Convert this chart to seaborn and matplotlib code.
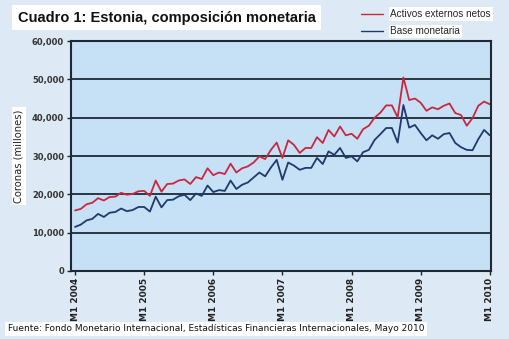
import numpy as np
import pandas as pd
import matplotlib
matplotlib.use("Agg")
import matplotlib.pyplot as plt
import seaborn as sns
from matplotlib.lines import Line2D

# ---- data (millones de coronas), monthly Jan 2004 .. Jan 2010 ----
activos = [15.8, 16.2, 17.4, 17.8, 19.0, 18.4, 19.3, 19.4, 20.4, 19.9, 20.1, 20.8,
           20.9, 19.6, 23.6, 20.7, 22.7, 22.8, 23.6, 23.9, 22.7, 24.5, 24.0, 26.8,
           25.0, 25.7, 25.3, 28.0, 25.7, 26.8, 27.3, 28.3, 29.9, 29.2, 31.6, 33.5,
           29.5, 34.1, 32.9, 30.8, 32.1, 32.1, 34.9, 33.4, 36.8, 35.1, 37.7, 35.4,
           35.8, 34.5, 37.0, 37.9, 40.0, 41.3, 43.2, 43.2, 40.1, 50.5, 44.6, 45.0,
           43.9, 41.8, 42.7, 42.2, 43.1, 43.7, 41.2, 40.7, 37.9, 39.9, 43.1, 44.2,
           43.5]
base = [11.5, 12.1, 13.2, 13.6, 14.9, 14.1, 15.2, 15.4, 16.3, 15.6, 15.9, 16.7,
        16.7, 15.5, 19.4, 16.6, 18.5, 18.6, 19.5, 19.9, 18.5, 20.2, 19.6, 22.3,
        20.6, 21.1, 20.9, 23.6, 21.4, 22.5, 23.1, 24.4, 25.7, 24.7, 27.0, 29.0,
        23.8, 28.3, 27.5, 26.4, 26.9, 26.9, 29.5, 27.9, 31.2, 30.3, 32.1, 29.5,
        29.9, 28.6, 31.0, 31.6, 34.2, 35.7, 37.3, 37.3, 33.5, 43.3, 37.4, 38.1,
        36.0, 34.1, 35.4, 34.5, 35.7, 36.0, 33.4, 32.3, 31.6, 31.5, 34.4, 36.8,
        35.4]
series_names = ["Activos externos netos", "Base monetaria"]
tick_labels = ["M1 2004", "M1 2005", "M1 2006", "M1 2007", "M1 2008", "M1 2009", "M1 2010"]
y_ticks = [0, 10000, 20000, 30000, 40000, 50000, 60000]

months = np.arange(len(activos))
df = pd.DataFrame({
    "mes": np.concatenate([months, months]),
    "valor": np.concatenate([np.array(activos) * 1000, np.array(base) * 1000]),
    "serie": [series_names[0]] * len(activos) + [series_names[1]] * len(base),
})

sns.set_theme(style="white")
plt.rcParams["font.family"] = ["DejaVu Sans"]

fig = plt.figure(figsize=(5.09, 3.39), dpi=100)
fig.patch.set_facecolor("#dde9f4")
ax = fig.add_axes([0.1395, 0.2006, 0.8251, 0.6784])
ax.set_facecolor("#c6e0f6")

palette = {series_names[0]: "#c8283f", series_names[1]: "#1f3a6d"}
sns.lineplot(data=df, x="mes", y="valor", hue="serie", palette=palette,
             linewidth=1.3, ax=ax, legend=False)

ax.set_xlim(-0.7, 72.2)
ax.set_ylim(0, 60000)
ax.set_yticks(y_ticks)
ax.set_yticklabels([f"{v:,}" for v in y_ticks], fontsize=6.0, fontweight="bold", color="#333333")
ax.set_xticks(np.arange(0, 73, 12))
ax.set_xticklabels(tick_labels, rotation=90, fontsize=6.5, fontweight="bold", color="#222222")
ax.tick_params(axis="both", length=3, width=1, color="#222222", pad=2, left=True, bottom=True)
for y in y_ticks[1:]:
    ax.axhline(y, color="#1d2935", linewidth=1.3, zorder=1)
for s in ax.spines.values():
    s.set_color("#1d2935")
    s.set_linewidth(1.5)
ax.set_xlabel("")
ax.set_ylabel("Coronas (millones)", fontsize=7.2, color="#222222", labelpad=6,
              bbox=dict(facecolor="white", edgecolor="none", pad=1.5))

# legend
handles = [Line2D([0], [0], color=palette[n], lw=1.0) for n in series_names]
leg = fig.legend(handles, series_names, loc="upper right", bbox_to_anchor=(0.982, 1.0),
                 frameon=False, prop={"family": "Liberation Sans", "size": 7.2},
                 handlelength=2.2, handletextpad=0.7, labelspacing=0.75)
for t in leg.get_texts():
    t.set_bbox(dict(facecolor="white", edgecolor="none", pad=1.2))

fig.text(0.035, 0.948, "Cuadro 1: Estonia, composición monetaria", fontsize=10.5,
         fontweight="bold", family="Liberation Sans", color="#111111", va="center", ha="left",
         bbox=dict(facecolor="white", edgecolor="none", pad=4))
fig.text(0.016, 0.03, "Fuente: Fondo Monetario Internacional, Estadísticas Financieras Internacionales, Mayo 2010",
         fontsize=6.5, color="#111111", va="center", ha="left",
         bbox=dict(facecolor="white", edgecolor="none", pad=2))

fig.savefig("out.png", dpi=100, facecolor=fig.get_facecolor())
